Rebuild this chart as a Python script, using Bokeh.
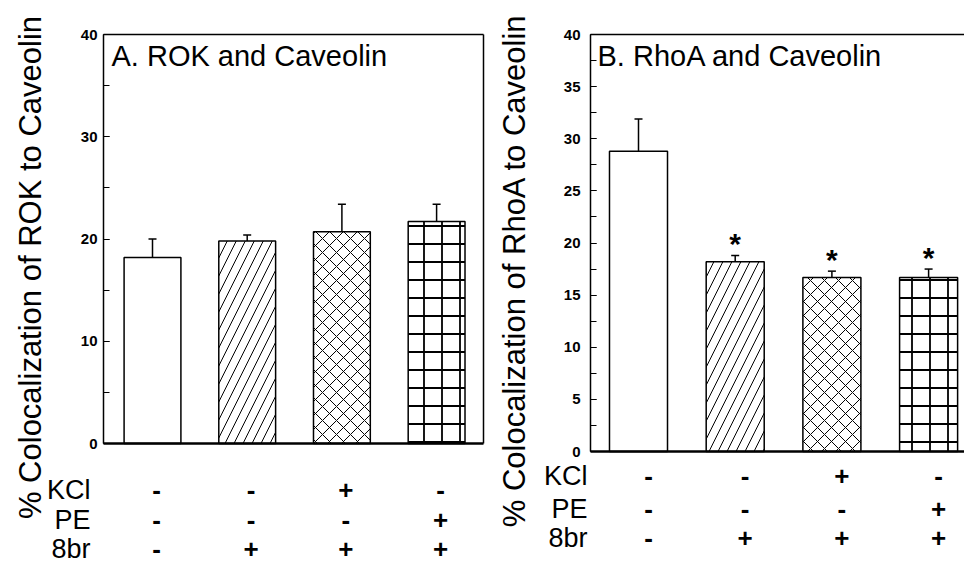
from bokeh.plotting import figure
from bokeh.layouts import row
from bokeh.models import (ColumnDataSource, Whisker, TeeHead, Label,
                          SingleIntervalTicker, LinearAxis, FixedTicker, Range1d)
from bokeh.embed import file_html
from bokeh.resources import INLINE
from bokeh.core.properties import value

# ---------------- data ----------------
positions = [1, 2, 3, 4]
kcl_signs = ["-", "-", "+", "-"]
pe_signs = ["-", "-", "-", "+"]
br8_signs = ["-", "+", "+", "+"]
row_names = ["KCl", "PE", "8br"]

rok_mean = [18.2, 19.8, 20.7, 21.7]
rok_sem = [1.8, 0.6, 2.7, 1.7]
rok_sig = ["", "", "", ""]

rhoa_mean = [28.8, 18.2, 16.7, 16.7]
rhoa_sem = [3.1, 0.6, 0.6, 0.8]
rhoa_sig = ["", "*", "*", "*"]

bar_patterns = [" ", "/", "x", "+"]

title_a = "A. ROK and Caveolin"
title_b = "B. RhoA and Caveolin"
ylabel_a = "% Colocalization of ROK to Caveolin"
ylabel_b = "% Colocalization of RhoA to Caveolin"

FONT = "Liberation Sans"
FIG_TOP = 0
FIG_H = 562
YMAX = 40


def plain_axis(loc, bounds, width):
    return LinearAxis(ticker=FixedTicker(ticks=[]), fixed_location=loc, bounds=bounds,
                      axis_line_width=width, axis_line_color="black",
                      major_label_text_font_size="0px",
                      major_tick_line_color=None, minor_tick_line_color=None)


def make_panel(L):
    step = L["step"]
    top_px, zero_px = L["top_px"], L["zero_px"]

    def X(px):
        return 1 + (px - L["bar1_px"]) / step

    def Y(py):
        return (zero_px - py) * YMAX / (zero_px - top_px)

    x_start, x_end = X(L["fig_left"]), X(L["fig_left"] + L["fig_w"])
    y_start, y_end = Y(FIG_TOP + FIG_H), Y(FIG_TOP)
    ax_x = X(L["axis_px"])
    right_x = X(L["right_px"]) if L["right_px"] else x_end

    p = figure(width=L["fig_w"], height=FIG_H, output_backend="svg",
               toolbar_location=None, min_border=0,
               min_border_left=0, min_border_right=0, min_border_top=0, min_border_bottom=0,
               x_range=Range1d(x_start, x_end), y_range=Range1d(y_start, y_end),
               x_axis_type=None, y_axis_type=None)
    p.grid.visible = False
    p.outline_line_color = None
    p.background_fill_color = "white"
    p.border_fill_color = "white"

    # frame lines
    p.add_layout(plain_axis(YMAX, (ax_x, right_x), 1.3), "above")
    p.add_layout(plain_axis(0, (ax_x, right_x), 2.5), "below")
    if L["right_px"]:
        p.add_layout(plain_axis(right_x, (0, YMAX), 1.5), "right")

    yax = LinearAxis(ticker=SingleIntervalTicker(interval=L["interval"], num_minor_ticks=2),
                     fixed_location=ax_x, bounds=(0, YMAX))
    yax.major_label_text_font = FONT
    yax.major_label_text_font_size = "15px"
    yax.major_label_text_font_style = "bold"
    yax.major_label_text_color = "black"
    yax.major_label_standoff = L["tick_standoff"]
    yax.axis_line_width = 1.5
    yax.axis_line_color = "black"
    yax.major_tick_in = 6
    yax.major_tick_out = 0
    yax.minor_tick_in = 6
    yax.minor_tick_out = 0
    yax.major_tick_line_width = 1.2
    yax.minor_tick_line_width = 1.2
    yax.major_tick_line_color = "black"
    yax.minor_tick_line_color = "black"
    p.add_layout(yax, "left")

    mean, sem, sig = L["mean"], L["sem"], L["sig"]
    upper = [m + s for m, s in zip(mean, sem)]
    star_dy = 12 * YMAX / (zero_px - top_px)
    sign_dx = L["sign_dx"] / step
    src = ColumnDataSource(dict(
        x=positions, mean=mean, upper=upper, sig=sig,
        star_y=[u + star_dy for u in upper],
        pattern=bar_patterns,
        hscale=[12, 18, 14, 18],
        hweight=[1, 1, 1, 1.8],
    ))

    p.vbar(x="x", top="mean", width=0.6, source=src, fill_color="white",
           line_color="black", line_width=1.5, hatch_pattern="pattern",
           hatch_scale="hscale", hatch_weight="hweight", hatch_color="black")

    p.add_layout(Whisker(source=src, base="x", upper="upper", lower="mean",
                         dimension="height", line_color="black", line_width=1.5,
                         upper_head=TeeHead(size=8, line_width=1.5, line_color="black"),
                         lower_head=None))

    p.text(x="x", y="star_y", text="sig", source=src, text_align="center",
           text_baseline="middle", text_font=value(FONT), text_font_style="bold",
           text_font_size="30px", text_color="black")

    # panel title
    p.add_layout(Label(x=X(L["title_px"][0]), y=Y(L["title_px"][1]), text=L["title"],
                       text_font=FONT, text_font_size="29px",
                       text_baseline="middle", text_color="black"))
    # y label
    p.add_layout(Label(x=X(L["ylabel_px"][0]), y=Y(L["ylabel_px"][1]), text=L["ylabel"],
                       angle=90, angle_units="deg", text_align="center",
                       text_baseline="middle", text_font=FONT,
                       text_font_size="31px", text_color="black"))

    # condition table
    for name, signs, ry in zip(row_names, [kcl_signs, pe_signs, br8_signs], L["rows_px"]):
        yy = Y(ry)
        row_src = ColumnDataSource(dict(
            x=[x + sign_dx for x in positions], y=[yy] * len(signs), text=signs))
        p.text(x="x", y="y", text="text", source=row_src, text_align="center",
               text_baseline="middle", text_font=value(FONT), text_font_size="26px",
               text_font_style="bold", text_color="black")
        p.add_layout(Label(x=X(L["names_right_px"]), y=yy, text=name,
                           text_align="right", text_baseline="middle",
                           text_font=FONT, text_font_size="27px", text_color="black"))
    return p


layout_a = dict(fig_left=0, fig_w=488, axis_px=103, right_px=483, bar1_px=152, step=94.7,
                top_px=34, zero_px=443, interval=10, tick_standoff=6,
                mean=rok_mean, sem=rok_sem, sig=rok_sig, title=title_a, ylabel=ylabel_a,
                title_px=(111, 55), ylabel_px=(30, 267), rows_px=[489, 519, 548],
                names_right_px=90, sign_dx=4)
layout_b = dict(fig_left=488, fig_w=476, axis_px=590, right_px=None, bar1_px=638, step=96.7,
                top_px=34, zero_px=451, interval=5, tick_standoff=10,
                mean=rhoa_mean, sem=rhoa_sem, sig=rhoa_sig, title=title_b, ylabel=ylabel_b,
                title_px=(597, 55), ylabel_px=(514, 270), rows_px=[475, 508, 537],
                names_right_px=587, sign_dx=10)

pa = make_panel(layout_a)
pb = make_panel(layout_b)

layout = row(pa, pb)
open("out.html", "w").write(file_html(layout, INLINE))
